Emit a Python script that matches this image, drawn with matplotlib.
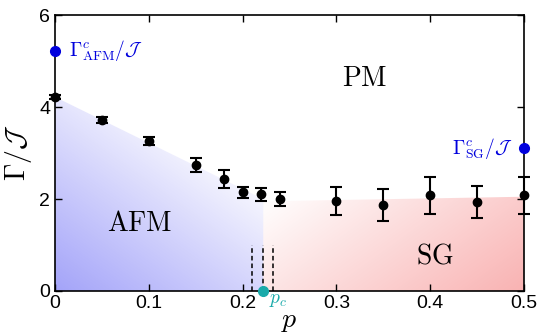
import numpy as np
import matplotlib
matplotlib.use("Agg")
import matplotlib.pyplot as plt
from matplotlib.patches import Polygon

plt.rcParams['mathtext.fontset'] = 'cm'
plt.rcParams['font.family'] = ['Liberation Sans', 'DejaVu Sans']

# data
p = [0.0, 0.05, 0.10, 0.15, 0.18, 0.20, 0.22, 0.24, 0.30, 0.35, 0.40, 0.45, 0.50]
gamma = [4.22, 3.72, 3.26, 2.74, 2.43, 2.15, 2.10, 2.00, 1.96, 1.87, 2.08, 1.93, 2.08]
err = [0.05, 0.06, 0.08, 0.15, 0.20, 0.12, 0.15, 0.15, 0.30, 0.35, 0.40, 0.35, 0.40]
gamma_afm_c = 5.22
gamma_sg_c = 3.10
p_c = 0.222
p_dashed = [0.21, 0.222, 0.232]
afm_boundary = [(0.0, 4.22), (0.222, 2.0)]
sg_boundary = [(0.222, 1.95), (0.5, 2.05)]

fig = plt.figure(figsize=(5.41, 3.36), dpi=100)
ax = fig.add_axes([0.1017, 0.134, 0.867, 0.821])
ax.set_xlim(0, 0.5)
ax.set_ylim(0, 6)

# gradient fills
def grad_fill(ax, poly_pts, color, tfun, scale):
    nx, ny = 300, 300
    xs = np.linspace(0, 0.5, nx)
    ys = np.linspace(0, 6, ny)
    X, Y = np.meshgrid(xs, ys)
    t = tfun(X, Y)
    a = np.clip(1 - t / scale, 0, 1)
    img = np.zeros((ny, nx, 4))
    img[..., 0] = color[0]
    img[..., 1] = color[1]
    img[..., 2] = color[2]
    img[..., 3] = a
    im = ax.imshow(img, extent=(0, 0.5, 0, 6), origin='lower', aspect='auto',
                   zorder=0, interpolation='bilinear')
    poly = Polygon(poly_pts, closed=True, facecolor='none', edgecolor='none')
    ax.add_patch(poly)
    im.set_clip_path(poly)

afm_poly = [(0, 0), afm_boundary[0], afm_boundary[1], (afm_boundary[1][0], 0)]
sg_poly = [(sg_boundary[0][0], 0), sg_boundary[0], sg_boundary[1], (sg_boundary[1][0], 0)]
grad_fill(ax, afm_poly, (0.64, 0.64, 0.98),
          lambda X, Y: X / 0.5 * 1.1 + Y / 6 * 0.9, 0.88)
grad_fill(ax, sg_poly, (0.98, 0.70, 0.70),
          lambda X, Y: (0.5 - X) / 0.5 * 1.1 + Y / 6 * 0.9, 0.92)

# dashed lines
for xd in p_dashed:
    ax.plot([xd, xd], [0, 1.0], ls='--', color='black', lw=1.1, dashes=(3, 2), zorder=2)

# data
ax.errorbar(p, gamma, yerr=err, fmt='o', color='black', ms=6, capsize=4.5,
            elinewidth=1.5, capthick=1.5, zorder=3, clip_on=False)

# critical points
ax.plot([0], [gamma_afm_c], 'o', color='#0000dd', ms=7, clip_on=False, zorder=4)
ax.plot([0.5], [gamma_sg_c], 'o', color='#0000dd', ms=7, clip_on=False, zorder=4)
ax.plot([p_c], [0], 'o', color='#1aaaaa', ms=7, clip_on=False, zorder=4)

ax.text(0.015, gamma_afm_c, r'$\Gamma^c_{\mathrm{AFM}}/\mathcal{J}$', color='#0000dd',
        fontsize=14, va='center', ha='left')
ax.text(0.488, gamma_sg_c, r'$\Gamma^c_{\mathrm{SG}}/\mathcal{J}$', color='#0000dd',
        fontsize=14, va='center', ha='right')
ax.text(p_c + 0.006, -0.02, r'$p_c$', color='#1aaaaa', fontsize=14, va='top', ha='left')

ax.text(0.33, 4.6, r'$\mathrm{PM}$', fontsize=20, ha='center', va='center')
ax.text(0.09, 1.45, r'$\mathrm{AFM}$', fontsize=20, ha='center', va='center')
ax.text(0.405, 0.75, r'$\mathrm{SG}$', fontsize=20, ha='center', va='center')

ax.set_xticks([0, 0.1, 0.2, 0.3, 0.4, 0.5])
ax.set_xticklabels(['0', '0.1', '0.2', '0.3', '0.4', '0.5'])
ax.set_yticks([0, 2, 4, 6])
ax.tick_params(direction='in', top=True, right=True, labelsize=14, length=5, width=1)
ax.tick_params(axis='x', pad=3)
for s in ax.spines.values():
    s.set_linewidth(1.2)

ax.set_xlabel(r'$p$', fontsize=20, labelpad=-3)
ax.set_ylabel(r'$\Gamma/\mathcal{J}$', fontsize=20, labelpad=4)

fig.savefig('out.png', dpi=100, facecolor='white')
